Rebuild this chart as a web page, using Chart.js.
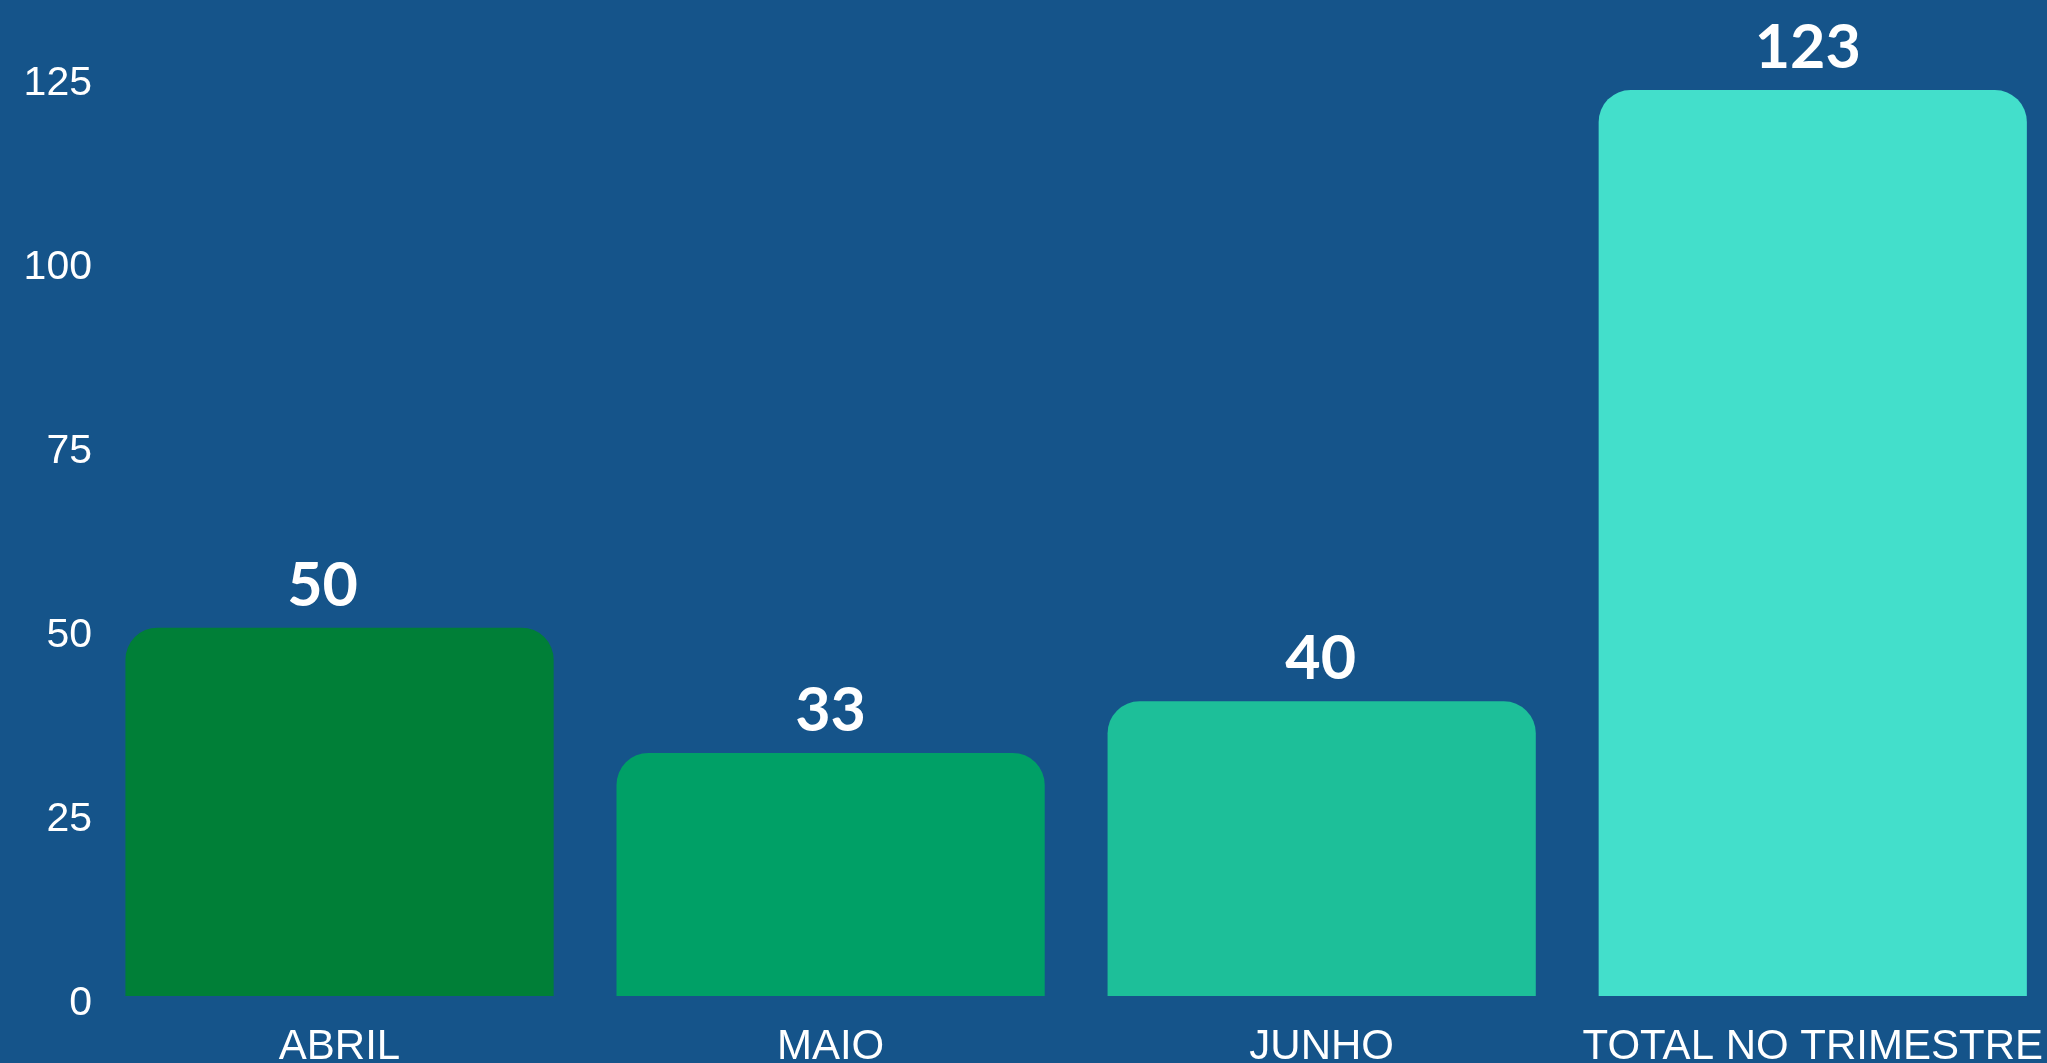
<!DOCTYPE html>
<html>
<head>
<meta charset="utf-8">
<script src="https://cdn.jsdelivr.net/npm/chart.js@4/dist/chart.umd.min.js"></script>
<style>
  html,body{margin:0;padding:0;background:#15548a;overflow:hidden;}
  #wrap{width:2047px;height:1063px;overflow:hidden;}
</style>
</head>
<body>
<div id="wrap"><canvas id="c" width="2069" height="1063"></canvas></div>
<script>
/* ---------- данные ---------- */
const categories = ['ABRIL', 'MAIO', 'JUNHO', 'TOTAL NO TRIMESTRE'];
const values     = [50, 33, 40, 123];
const barColors  = ['#007f37', '#00a066', '#1dbf99', '#43dfcb'];
const yTicks     = [0, 25, 50, 75, 100, 125];

/* ---------- подписи значений над столбцами ---------- */
const valueLabels = {
  id: 'valueLabels',
  afterDatasetsDraw(chart, args, opts) {
    const ctx = chart.ctx;
    const meta = chart.getDatasetMeta(0);
    ctx.save();
    ctx.font = 'bold 61px Lato';
    ctx.fillStyle = '#ffffff';
    ctx.textAlign = 'center';
    ctx.textBaseline = 'alphabetic';
    meta.data.forEach((bar, i) => {
      const dx = (opts.shift && opts.shift[i]) || 0;
      ctx.fillText(String(values[i]), bar.x + dx, bar.y - 22);
    });
    ctx.restore();
  }
};

new Chart(document.getElementById('c'), {
  type: 'bar',
  data: {
    labels: categories,
    datasets: [{
      data: values,
      backgroundColor: barColors,
      borderRadius: 32,
      borderSkipped: 'start',
      barPercentage: 0.872,
      categoryPercentage: 1
    }]
  },
  options: {
    responsive: false,
    animation: false,
    layout: { padding: 0 },
    plugins: {
      legend: { display: false },
      tooltip: { enabled: false },
      valueLabels: { shift: [-17, 0, -1, -5] }
    },
    scales: {
      x: {
        grid: { display: false, drawTicks: false },
        border: { display: false },
        ticks: {
          color: '#ffffff',
          font: { family: 'Liberation Sans', size: 42 },
          padding: 26,
          maxRotation: 0,
          autoSkip: false
        },
        afterFit: s => { s.height = 67; }
      },
      y: {
        min: 0,
        max: 131.6,
        grid: { display: false, drawTicks: false },
        border: { display: false },
        ticks: {
          color: '#ffffff',
          font: { family: 'Liberation Sans', size: 41 },
          padding: 2,
          stepSize: 25,
          labelOffset: 8
        },
        afterBuildTicks: s => { s.ticks = yTicks.map(v => ({ value: v })); },
        afterFit: s => { s.width = 94; }
      }
    }
  },
  plugins: [valueLabels]
});
</script>
</body>
</html>
